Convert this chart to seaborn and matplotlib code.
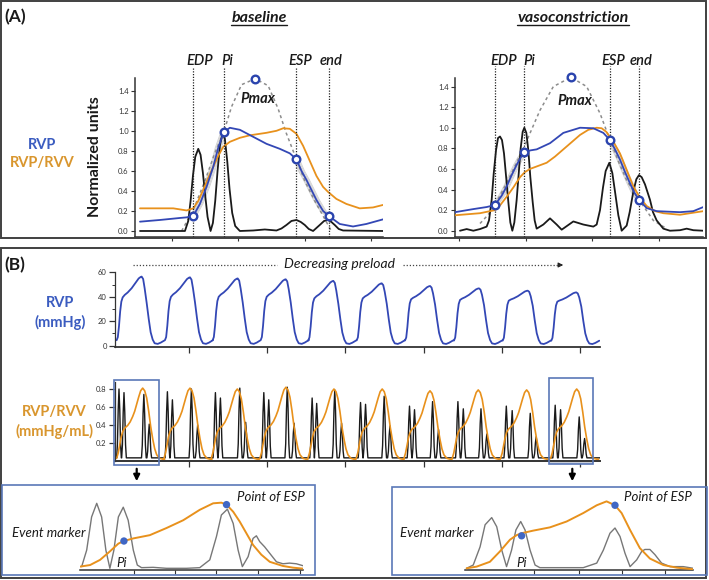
import numpy as np
import matplotlib
matplotlib.use("Agg")
import matplotlib.pyplot as plt
import seaborn as sns
from matplotlib.patches import Rectangle, FancyArrowPatch
from matplotlib.lines import Line2D

# ---------------- Panel A: one beat, normalized units (time in ms) ----------------
# baseline
bl_black_t = [52.5, 115, 120, 125, 128.5, 132, 135.5, 140, 143.5, 147, 150.5, 154, 158.5,
              162, 165.5, 169, 172.5, 176.5, 180, 183.5, 187, 191, 195.5, 202.5,
              222.5, 240, 257.5, 265, 272.5, 280, 287.5, 294, 300, 306, 312.5,
              317.5, 322.5, 329, 335, 340, 345, 351, 357.5, 417.5]
bl_black_v = [0.0, 0.0, 0.0, 0.1, 0.3, 0.55, 0.74, 0.82, 0.76, 0.58, 0.35, 0.14, 0.0,
              0.08, 0.3, 0.6, 0.85, 0.98, 0.92, 0.7, 0.42, 0.18, 0.05, 0.0,
              0.005, 0.015, 0.005, 0.025, 0.06, 0.1, 0.11, 0.09, 0.06, 0.02, 0.0,
              0.03, 0.06, 0.1, 0.11, 0.09, 0.06, 0.02, 0.005, 0.0]
bl_blue_t = [52.5, 82.5, 112.5, 122.5, 132.5, 142.5, 152.5, 162.5, 170, 178.5, 187.5,
             202.5, 222.5, 242.5, 262.5, 277.5, 287.5, 295, 302.5, 317.5, 327.5, 336,
             352.5, 372.5, 392.5, 417.5]
bl_blue_v = [0.093, 0.11, 0.13, 0.136, 0.15, 0.27, 0.44, 0.64, 0.83, 0.99, 1.03,
             1.01, 0.94, 0.87, 0.82, 0.775, 0.715, 0.6, 0.51, 0.31, 0.2, 0.15,
             0.07, 0.045, 0.07, 0.116]
bl_orange_t = [52.5, 102.5, 122.5, 132.5, 140, 147.5, 155, 162.5, 170, 177.5, 187.5,
               202.5, 217.5, 242.5, 257.5, 267.5, 277.5, 287.5, 297.5, 307.5, 317.5,
               327.5, 335, 347.5, 362.5, 382.5, 402.5, 417.5]
bl_orange_v = [0.226, 0.226, 0.205, 0.226, 0.3, 0.41, 0.53, 0.64, 0.75, 0.84, 0.89,
               0.93, 0.955, 0.98, 1.0, 1.025, 1.02, 0.97, 0.85, 0.7, 0.55,
               0.44, 0.39, 0.32, 0.27, 0.226, 0.235, 0.26]
bl_pmax_t = [115, 125, 135, 150, 165, 178.5, 190, 205, 225.5, 245, 260, 272, 287.5,
             300, 315, 330, 340]
bl_pmax_v = [0.0, 0.12, 0.25, 0.5, 0.78, 0.99, 1.24, 1.46, 1.52, 1.45, 1.22, 0.98, 0.715,
             0.5, 0.3, 0.12, 0.0]
bl_events = [132.5, 178.5, 287.5, 336]          # EDP, Pi, ESP, end
bl_mark_t = [132.5, 178.5, 225.5, 287.5, 336]
bl_mark_v = [0.15, 0.99, 1.52, 0.715, 0.15]

# vasoconstriction
vc_black_t = [101.5, 111.5, 121.5, 131.5, 141.5, 145, 149, 152, 155.5, 158.5, 161.5, 164.5,
              167.5, 171, 174, 177, 180, 183, 186.5, 189.5, 192.5, 195.5, 198, 201, 204,
              207, 210.5, 213.5, 216.5, 226.5, 236.5, 246.5, 254, 271.5, 286.5, 301.5,
              306.5, 311.5, 316, 320, 325.5, 330, 334, 339, 344, 351.5, 356, 361.5, 366,
              370, 374, 379, 386.5, 391, 396.5, 406.5, 416.5, 431.5, 441.5, 451.5, 466.5]
vc_black_v = [0.0, 0.016, 0.0, 0.016, 0.04, 0.1, 0.3, 0.55, 0.78, 0.9, 0.915, 0.88,
              0.75, 0.5, 0.28, 0.08, 0.0, 0.08, 0.3, 0.55, 0.8, 0.96, 1.0, 0.95, 0.78,
              0.52, 0.28, 0.1, 0.02, 0.06, 0.12, 0.06, 0.01, 0.09, 0.06, 0.04,
              0.06, 0.2, 0.42, 0.58, 0.66, 0.56, 0.38, 0.15, 0.0, 0.05, 0.18, 0.38, 0.5,
              0.54, 0.52, 0.45, 0.3, 0.18, 0.1, 0.02, 0.0, 0.005, 0.02, 0.005, 0.0]
vc_blue_t = [94, 121.5, 141.5, 154, 164, 171.5, 179, 186.5, 192.5, 198, 207, 216.5, 236.5,
             256.5, 281.5, 301.5, 316.5, 326.5, 334, 341.5, 349, 356.5, 363, 370, 381.5,
             396.5, 431.5, 451.5, 466.5]
vc_blue_v = [0.18, 0.21, 0.23, 0.25, 0.34, 0.43, 0.54, 0.64, 0.71, 0.76, 0.78, 0.79, 0.85,
             0.95, 1.0, 0.995, 0.95, 0.88, 0.79, 0.69, 0.57, 0.46, 0.37, 0.30, 0.22,
             0.19, 0.18, 0.19, 0.23]
vc_orange_t = [94, 131.5, 154, 162, 171.5, 181.5, 191.5, 199, 206.5, 219, 231.5, 244, 256.5,
               269, 281.5, 294, 306.5, 314, 321, 331, 341.5, 351.5, 361.5, 371.5, 381.5,
               394, 406.5, 431.5, 466.5]
vc_orange_v = [0.15, 0.17, 0.2, 0.25, 0.33, 0.42, 0.52, 0.57, 0.6, 0.63, 0.66, 0.72, 0.79,
               0.86, 0.93, 0.98, 1.0, 0.995, 0.96, 0.87, 0.75, 0.59, 0.43, 0.32, 0.24,
               0.19, 0.17, 0.155, 0.19]
vc_pmax_t = [131.5, 143, 154, 176, 198, 221.5, 241.5, 268, 291.5, 311.5, 326.5, 340, 351.5,
             370, 391.5, 411.5]
vc_pmax_v = [0.07, 0.15, 0.25, 0.52, 0.82, 1.17, 1.4, 1.49, 1.4, 1.14, 0.88, 0.66, 0.49,
             0.30, 0.1, 0.02]
vc_events = [154, 198, 326.5, 370]
vc_mark_t = [154, 198, 268, 326.5, 370]
vc_mark_v = [0.25, 0.76, 1.49, 0.88, 0.30]

event_names = ["EDP", "Pi", "ESP", "end"]

# ---------------- Panel B: occlusion run (time in s) ----------------
rvp_peak_t = [0.395, 1.013, 1.623, 2.237, 2.846, 3.465, 4.083, 4.709, 5.332, 5.953]
rvp_peak = [56.5, 55.9, 55.0, 54.3, 53.0, 51.0, 48.8, 46.9, 45.0, 43.6]
rvp_shoulder = [39.5, 40, 40, 40, 38.7, 38.7, 37.9, 37.4, 36.8, 36.0]
# one RVP beat read from the first cycle (ms from peak, mmHg)
rvp_shape_ms = [-320, -305, -290, -275, -260, -243, -217, -179, -128, -77, -38, -13, 0,
                19, 38, 64, 90, 115, 141, 166, 205, 243, 269, 294]
rvp_shape = [4.5, 7, 16, 28, 36, 39.5, 41.5, 43.5, 47, 51.5, 55, 56.2, 56.5,
             54.5, 47, 35, 22, 11, 5, 2, 1.5, 2.5, 3.5, 4.5]

rvv_peak_t = [0.408, 1.013, 1.618, 2.240, 2.854, 3.471, 4.082, 4.699, 5.318, 5.958]
rvv_peak = [0.81, 0.81, 0.80, 0.82, 0.80, 0.80, 0.78, 0.79, 0.79, 0.80]
rvv_shape_ms = [-333, -313, -294, -275, -256, -230, -192, -160, -128, -102, -77, -51, -26, 0,
                26, 51, 77, 102, 128, 153, 179, 217, 256, 281]
rvv_shape = [0.03, 0.09, 0.18, 0.27, 0.33, 0.37, 0.40, 0.44, 0.50, 0.56, 0.64, 0.72, 0.79,
             0.82, 0.79, 0.71, 0.56, 0.39, 0.25, 0.14, 0.07, 0.03, 0.02, 0.02]

# event-marker spikes (s, mmHg/mL)
spike_t = [0.105, 0.169, 0.423, 0.492, 0.724, 0.788, 1.031, 1.111,
           1.338, 1.402, 1.650, 1.725, 1.957, 2.020, 2.257, 2.344,
           2.575, 2.633, 2.864, 2.951, 3.194, 3.258, 3.496, 3.570,
           3.820, 3.884, 4.115, 4.191, 4.439, 4.508, 4.734, 4.809,
           5.058, 5.133, 5.364, 5.440, 5.683, 5.752, 5.990, 6.059]
spike_h = [0.80, 0.76, 0.74, 0.41, 0.77, 0.68, 0.80, 0.40,
           0.76, 0.70, 0.81, 0.43, 0.76, 0.68, 0.82, 0.42,
           0.70, 0.64, 0.79, 0.42, 0.65, 0.63, 0.72, 0.39,
           0.61, 0.57, 0.66, 0.35, 0.66, 0.58, 0.58, 0.30,
           0.61, 0.56, 0.53, 0.27, 0.62, 0.57, 0.49, 0.25]
spike_shape_ms = [-30, -20, -10, 0, 10, 20, 30]
spike_shape = [0, 0.2, 0.7, 1, 0.7, 0.2, 0]
spike_base = 0.035

# insets (u = % of inset width, v = normalized)
inL_gray_u = [0.75, 3.0, 5.2, 7.5, 9.7, 11.6, 13.4, 15.2, 17.2, 19.4, 21.6, 23.9, 25.7, 27.6,
              32.8, 38.8, 47.8, 53.7, 58.2, 61.2, 63.4, 66.1, 68.7, 70.9, 72.8, 75.4, 77.6,
              79.1, 80.6, 82.8, 85.1, 88.1, 91.0, 94.0, 97.0, 100]
inL_gray_v = [0.026, 0.28, 0.79, 1.0, 0.79, 0.28, 0.0, 0.28, 0.79, 0.94, 0.74, 0.28, 0.05, 0.01,
              0.015, 0.0, 0.0, 0.01, 0.13, 0.49, 0.82, 0.91, 0.69, 0.28, 0.026, 0.18, 0.46,
              0.50, 0.41, 0.33, 0.23, 0.10, 0.07, 0.08, 0.07, 0.04]
inL_orange_u = [0, 4.5, 9.0, 13.4, 17.2, 19.7, 23.9, 31.3, 38.8, 46.3, 53.7, 59.7, 63.4, 65.7,
                68.7, 71.6, 74.6, 77.6, 81.3, 85.1, 91.0, 95.5, 100]
inL_orange_v = [0.026, 0.05, 0.13, 0.26, 0.38, 0.42, 0.46, 0.51, 0.62, 0.74, 0.90, 1.0, 1.01,
                0.98, 0.87, 0.72, 0.54, 0.36, 0.21, 0.10, 0.036, 0.01, -0.005]
inL_dot_u = [19.7, 65.7]
inL_dot_v = [0.42, 0.98]

inR_gray_u = [0.7, 3.6, 6.6, 8.8, 11.7, 13.9, 16.1, 18.2, 20.4, 22.3, 24.4, 26.3, 28.5, 30.7,
              32.8, 40.1, 51.8, 57.7, 60.6, 63.5, 65.7, 67.9, 70.1, 72.3, 75.2, 77.4, 78.8,
              81.0, 83.2, 86.1, 89.8, 95.6, 100]
inR_gray_v = [0.0, 0.05, 0.33, 0.67, 0.78, 0.64, 0.28, 0.026, 0.28, 0.59, 0.72, 0.59, 0.28,
              0.05, 0.01, 0.01, 0.01, 0.08, 0.28, 0.54, 0.62, 0.49, 0.23, 0.026, 0.13, 0.26,
              0.29, 0.29, 0.21, 0.08, 0.026, 0.026, 0.0]
inR_orange_u = [0.7, 5.1, 10.9, 15.3, 19.7, 22.6, 24.8, 29.9, 37.2, 44.5, 51.8, 57.7, 62.0,
                65.7, 68.6, 72.3, 76.6, 81.0, 86.9, 92.7, 100]
inR_orange_v = [0.0, 0.026, 0.10, 0.26, 0.44, 0.51, 0.54, 0.58, 0.63, 0.72, 0.85, 0.97, 1.03,
                0.97, 0.85, 0.59, 0.31, 0.15, 0.05, 0.01, -0.015]
inR_dot_u = [24.8, 65.7]
inR_dot_v = [0.50, 0.97]

# ---------------- style ----------------
BLUE = "#3347b5"
ORANGE = "#e8911c"
LBL_BLUE = "#3b5cc0"
LBL_ORANGE = "#d9962e"
BOX_BLUE = "#5a78b8"
FRAME = "#404040"
INK = "#1a1a1a"

sns.set_theme(style="white")
plt.rcParams["font.family"] = ["Lato", "DejaVu Sans"]
plt.rcParams["axes.edgecolor"] = "#333333"
plt.rcParams["xtick.color"] = "#333333"
plt.rcParams["ytick.color"] = "#333333"

W, H = 709, 580
fig = plt.figure(figsize=(W / 100, H / 100), dpi=100)
fig.patch.set_facecolor("white")


def fx(px):
    return px / W


def fy(py):
    return 1 - py / H


def add_ax(x0, y0, x1, y1):
    return fig.add_axes([fx(x0), fy(y1), (x1 - x0) / W, (y1 - y0) / H])


def frame(x0, y0, x1, y1, color, lw, fill=None):
    fig.add_artist(Rectangle((fx(x0), fy(y1)), (x1 - x0) / W, (y1 - y0) / H,
                             transform=fig.transFigure, fill=fill is not None,
                             facecolor=fill if fill else "none", edgecolor=color, lw=lw))


def line(ax, x, y, **kw):
    sns.lineplot(x=x, y=y, ax=ax, sort=False, estimator=None, **kw)


def draw_beat(ax, black_t, black_v, blue_t, blue_v, orange_t, orange_v, pmax_t, pmax_v,
              events, mark_t, mark_v, xlim, ylim, line_top, label_y, label_dx, pmax_xy):
    # light gray fitting traces on the isovolumic segments
    bt = np.array(blue_t)
    bv = np.array(blue_v)
    for a, b in [(events[0], events[1]), (events[2], events[3])]:
        m = (bt >= a - 1) & (bt <= b + 1)
        for s in (-4.5, -3, -1.5, 1.5, 3, 4.5):
            ax.plot(bt[m] + s, bv[m], color="#cfcfcf", lw=0.6, zorder=1)
    line(ax, pmax_t, pmax_v, color="#8c8c8c", lw=1.1, linestyle=(0, (2, 2)), zorder=2)
    line(ax, black_t, black_v, color=INK, lw=1.3, zorder=3)
    line(ax, orange_t, orange_v, color=ORANGE, lw=1.3, zorder=4)
    line(ax, blue_t, blue_v, color=BLUE, lw=1.3, zorder=5)
    ax.vlines(events, ylim[0], line_top, colors="#222222", linestyles=(0, (1, 1.2)),
              lw=0.9, clip_on=False, zorder=6)
    for t, name, dx in zip(events, event_names, label_dx):
        ax.text(t + dx, label_y, name, ha="center", va="center", style="italic",
                fontweight="semibold", fontsize=10.5, color=INK)
    ax.text(pmax_xy[0], pmax_xy[1], "Pmax", ha="center", va="center", style="italic",
            fontweight="bold", fontsize=10.5, color=INK)
    sns.scatterplot(x=mark_t, y=mark_v, ax=ax, s=30, marker="o", facecolor="white",
                    edgecolor="#2b44ae", linewidth=1.7, clip_on=False, zorder=7)
    ax.set_xlim(*xlim)
    ax.set_ylim(*ylim)
    ax.set_xticks([100, 200, 300, 400])
    ax.set_xticklabels([])
    ax.set_yticks(np.arange(0, 1.41, 0.2))
    ax.set_yticklabels([f"{v:.1f}" for v in np.arange(0, 1.41, 0.2)])
    ax.tick_params(axis="both", direction="out", length=3, width=0.8, labelsize=5.5, pad=1.5,
                   left=True, bottom=True)
    ax.set(xlabel="", ylabel="")
    sns.despine(ax=ax)
    for sp in ax.spines.values():
        sp.set_linewidth(1.1)


# ---------------- Panel A ----------------
frame(1, 1, 706, 238, FRAME, 1.4)
fig.text(fx(4), fy(17), "(A)", fontsize=12.5, fontweight="bold", va="center", ha="left", color=INK)

axL = add_ax(135, 78, 383, 237)
draw_beat(axL, bl_black_t, bl_black_v, bl_blue_t, bl_blue_v, bl_orange_t, bl_orange_v,
          bl_pmax_t, bl_pmax_v, bl_events, bl_mark_t, bl_mark_v,
          (45, 417.5), (-0.06, 1.527), 1.637, 1.70, [10, 4.5, 5, 4], (230, 1.32))
axR = add_ax(455, 78, 703, 237)
draw_beat(axR, vc_black_t, vc_black_v, vc_blue_t, vc_blue_v, vc_orange_t, vc_orange_v,
          vc_pmax_t, vc_pmax_v, vc_events, vc_mark_t, vc_mark_v,
          (94, 466), (-0.061, 1.483), 1.595, 1.65, [12.5, 7, 5, 2.5], (274, 1.255))

titles = []
titles.append(fig.text(fx(259), fy(18), "baseline", fontsize=11.5, fontweight="bold",
                       style="italic", ha="center", va="center", color=INK))
titles.append(fig.text(fx(573), fy(18), "vasoconstriction", fontsize=11.5, fontweight="bold",
                       style="italic", ha="center", va="center", color=INK))

fig.text(fx(42), fy(145), "RVP", fontsize=10.5, fontweight="bold", color=LBL_BLUE,
         ha="center", va="center")
fig.text(fx(42), fy(163), "RVP/RVV", fontsize=10.5, fontweight="bold", color=LBL_ORANGE,
         ha="center", va="center")
fig.text(fx(95), fy(157), "Normalized units", fontsize=11.5, fontweight="bold", color=INK,
         rotation=90, ha="center", va="center")

# ---------------- Panel B ----------------
frame(1, 248, 706, 578, FRAME, 1.4)
fig.text(fx(4), fy(265), "(B)", fontsize=12.5, fontweight="bold", va="center", ha="left", color=INK)

fig.text(fx(340), fy(264), "Decreasing preload", fontsize=10, style="italic",
         ha="center", va="center", color=INK)
fig.add_artist(Line2D([fx(133), fx(277)], [fy(265), fy(265)], transform=fig.transFigure,
                      color="#444444", lw=0.9, linestyle=(0, (1, 1.5))))
fig.add_artist(Line2D([fx(403), fx(560)], [fy(265), fy(265)], transform=fig.transFigure,
                      color="#444444", lw=0.9, linestyle=(0, (1, 1.5))))
fig.add_artist(FancyArrowPatch((fx(556), fy(265)), (fx(566), fy(265)), transform=fig.transFigure,
                               arrowstyle="-|>", mutation_scale=7, color="#222222", lw=0.8))

# RVP trace
rvp_t, rvp_v = [], []
for tp, pk, sh in zip(rvp_peak_t, rvp_peak, rvp_shoulder):
    rvp_t.extend(tp + np.array(rvp_shape_ms) / 1000)
    rvp_v.extend(np.interp(rvp_shape, [0, 39.5, 56.5], [0, sh, pk]))

axP = add_ax(115, 271.7, 600, 346.7)
line(axP, rvp_t, rvp_v, color=BLUE, lw=1.3)
axP.set_xlim(0.054, 6.256)
axP.set_ylim(-0.8, 60.5)
axP.set_xticks([1, 2, 3, 4, 5, 6])
axP.set_xticklabels([])
axP.set_yticks([0, 20, 40, 60])
axP.set_yticks([10, 30, 50], minor=True)
axP.tick_params(axis="both", which="major", direction="out", length=4.5, width=0.9,
                labelsize=5.5, pad=1.5, left=True, bottom=True)
axP.tick_params(axis="y", which="minor", direction="out", length=2.5, width=0.7, left=True)
axP.set(xlabel="", ylabel="")
sns.despine(ax=axP)
axP.spines["bottom"].set_linewidth(1.3)
axP.spines["left"].set_linewidth(0.9)

fig.text(fx(60), fy(303), "RVP", fontsize=10.5, fontweight="bold", color=LBL_BLUE,
         ha="center", va="center")
fig.text(fx(60), fy(322), "(mmHg)", fontsize=10.5, fontweight="bold", color=LBL_BLUE,
         ha="center", va="center")

# RVP/RVV trace with event marker
rvv_t, rvv_v = [], []
for tp, pk in zip(rvv_peak_t, rvv_peak):
    rvv_t.extend(tp + np.array(rvv_shape_ms) / 1000)
    rvv_v.extend(np.interp(rvv_shape, [0.02, 0.82], [0.02, pk]))

blk_t, blk_v = [0.067], [0.06]
for tc, h in zip(spike_t, spike_h):
    for dt, f in zip(spike_shape_ms, spike_shape):
        blk_t.append(tc + dt / 1000)
        blk_v.append(spike_base + f * (h - spike_base))
blk_t.append(6.256)
blk_v.append(spike_base)

axV = add_ax(115, 382, 600, 461)
line(axV, blk_t, blk_v, color=INK, lw=1.0)
line(axV, rvv_t, rvv_v, color=ORANGE, lw=1.2)
axV.set_xlim(0.054, 6.256)
axV.set_ylim(0, 0.878)
axV.set_xticks([1, 2, 3, 4, 5, 6])
axV.set_xticklabels([])
axV.set_yticks([0.2, 0.4, 0.6, 0.8])
axV.set_yticklabels(["0.2", "0.4", "0.6", "0.8"])
axV.tick_params(axis="both", direction="out", length=4.5, width=0.9, labelsize=5.5, pad=1.5,
                left=True, bottom=True)
axV.set(xlabel="", ylabel="")
sns.despine(ax=axV)
axV.spines["bottom"].set_linewidth(1.4)
axV.spines["left"].set_linewidth(0.9)

fig.text(fx(54), fy(412), "RVP/RVV", fontsize=10.5, fontweight="bold", color=LBL_ORANGE,
         ha="center", va="center")
fig.text(fx(54), fy(431), "(mmHg/mL)", fontsize=10.5, fontweight="bold", color=LBL_ORANGE,
         ha="center", va="center")

# selection boxes and arrows
frame(549, 461.5, 593.3, 464.3, "none", 0, fill="#c9ced8")
frame(114, 380, 158.7, 465, BOX_BLUE, 1.2)
frame(549, 378.3, 593.3, 464.3, BOX_BLUE, 1.2)
for xa in (136.7, 572.3):
    fig.add_artist(FancyArrowPatch((fx(xa), fy(466)), (fx(xa), fy(484)), transform=fig.transFigure,
                                   arrowstyle="-|>", mutation_scale=9, color="black", lw=1.6))

# insets
frame(2, 485, 315, 575, BOX_BLUE, 1.2)
frame(391.7, 486.7, 707, 575, BOX_BLUE, 1.2)


def draw_inset(ax, gu, gv, ou, ov, du, dv, ticks, pi_u, esp_u):
    line(ax, gu, gv, color="#777777", lw=1.0, zorder=2)
    line(ax, ou, ov, color=ORANGE, lw=1.4, zorder=3)
    sns.scatterplot(x=du, y=dv, ax=ax, s=28, color="#3f66c4", edgecolor="none", zorder=4,
                    clip_on=False)
    ax.set_xlim(0, 100)
    ax.set_ylim(-0.026, 1.051)
    ax.set_xticks(ticks)
    ax.set_xticklabels([])
    ax.set_yticks([])
    ax.tick_params(axis="x", direction="out", length=3, width=0.8, bottom=True)
    ax.set(xlabel="", ylabel="")
    sns.despine(ax=ax, left=True)
    ax.spines["bottom"].set_linewidth(1.1)
    ax.patch.set_alpha(0)
    ax.text(pi_u, 0.08, "Pi", style="italic", fontsize=9.5, ha="center", va="center", color=INK)
    ax.text(esp_u, 1.10, "Point of ESP", style="italic", fontsize=9.5, ha="left", va="center",
            color=INK)


axIL = add_ax(80, 500, 303, 570)
draw_inset(axIL, inL_gray_u, inL_gray_v, inL_orange_u, inL_orange_v, inL_dot_u, inL_dot_v,
           [24, 42.6, 61.2, 80, 98.5], 18.7, 70.4)
axIR = add_ax(465, 500, 693.3, 570)
draw_inset(axIR, inR_gray_u, inR_gray_v, inR_orange_u, inR_orange_v, inR_dot_u, inR_dot_v,
           [30.2, 49.9, 68.8, 87.6], 24.8, 69.6)
fig.text(fx(12), fy(533), "Event marker", style="italic", fontsize=9.5, ha="left", va="center",
         color=INK)
fig.text(fx(400), fy(533), "Event marker", style="italic", fontsize=9.5, ha="left", va="center",
         color=INK)

# underline the panel A titles
fig.canvas.draw()
rend = fig.canvas.get_renderer()
for t in titles:
    bb = t.get_window_extent(rend).transformed(fig.transFigure.inverted())
    fig.add_artist(Line2D([bb.x0, bb.x1], [bb.y0 + 0.1 / H, bb.y0 + 0.1 / H],
                          transform=fig.transFigure, color=INK, lw=1.0))

fig.savefig("out.png", dpi=100)
